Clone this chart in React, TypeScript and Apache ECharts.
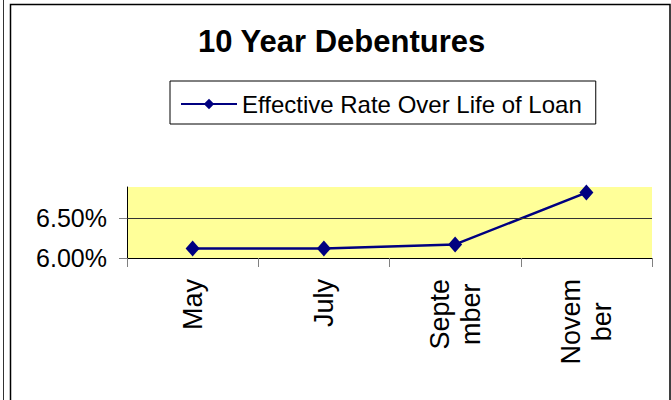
import React, { useEffect, useRef } from "react";
import * as echarts from "echarts";

const title = "10 Year Debentures";
const seriesName = "Effective Rate Over Life of Loan";
const categories = ["May", "July", "Septe\nmber", "Novem\nber"];
const rates = [6.12, 6.12, 6.17, 6.82];
const yTicks = [6.0, 6.5];
const gridValue = 6.5;
const yMin = 6.0;
const yMax = 6.89;

const FONT = "'Liberation Sans', Arial, sans-serif";

export default function App() {
  const ref = useRef<HTMLDivElement>(null);
  useEffect(() => {
    if (!ref.current) return;
    const chart = echarts.init(ref.current, null, { renderer: "svg" });
    chart.setOption({
      animation: false,
      backgroundColor: "#ffffff",
      textStyle: { fontFamily: FONT },
      title: {
        text: title,
        left: 198,
        top: 26,
        padding: 0,
        textStyle: { fontFamily: FONT, fontSize: 31, fontWeight: "bold", color: "#000" },
      },
      legend: {
        left: 170,
        top: 81,
        padding: [11, 14, 8, 10],
        borderColor: "#000",
        borderWidth: 1,
        itemWidth: 56,
        itemHeight: 13,
        textStyle: { fontFamily: FONT, fontSize: 24, color: "#000" },
        data: [seriesName],
      },
      grid: {
        left: 127,
        right: 19,
        top: 187,
        bottom: 142,
        show: true,
        backgroundColor: "#FFFF99",
        borderWidth: 0,
        containLabel: false,
      },
      xAxis: {
        type: "category",
        data: categories,
        boundaryGap: true,
        axisLine: { show: true, lineStyle: { color: "#000", width: 1 } },
        axisTick: { show: true, length: 9, lineStyle: { color: "#808080" } },
        axisLabel: {
          rotate: 90,
          margin: 21,
          color: "#000",
          fontFamily: FONT,
          fontSize: 27,
          lineHeight: 31,
          formatter: (v: string) => v.split("\n").map((l) => `{c|${l}}`).join("\n"),
          rich: { c: { fontFamily: FONT, fontSize: 27, lineHeight: 31, align: "center", color: "#000" } },
        },
        splitLine: { show: false },
      },
      yAxis: {
        type: "value",
        min: yMin,
        max: yMax,
        axisLine: { show: true, lineStyle: { color: "#000", width: 1 } },
        axisTick: { show: true, length: 8, customValues: yTicks, lineStyle: { color: "#808080" } },
        axisLabel: {
          customValues: yTicks,
          margin: 20,
          color: "#000",
          fontFamily: FONT,
          fontSize: 25,
          formatter: (v: number) => `${v.toFixed(2)}%`,
        },
        splitLine: { show: false },
      },
      series: [
        {
          name: seriesName,
          type: "line",
          data: rates,
          symbol: "diamond",
          symbolSize: [14, 16],
          lineStyle: { color: "#000080", width: 2.5 },
          itemStyle: { color: "#000080" },
          markLine: {
            silent: true,
            symbol: "none",
            label: { show: false },
            lineStyle: { color: "#333", width: 1, type: "solid" },
            data: [{ yAxis: gridValue }],
          },
          z: 3,
        },
      ],
      graphic: [
        {
          type: "line",
          shape: { x1: 3.5, y1: 0, x2: 3.5, y2: 400 },
          style: { stroke: "#333", lineWidth: 1 },
        },
        {
          type: "rect",
          shape: { x: 10.5, y: 4.5, width: 659.5, height: 420 },
          style: { stroke: "#000", lineWidth: 1.5, fill: "none" },
        },
      ],
    });
    return () => chart.dispose();
  }, []);
  return (
    <div
      ref={ref}
      style={{ position: "fixed", left: 0, top: 0, width: 671, height: 400 }}
    />
  );
}
